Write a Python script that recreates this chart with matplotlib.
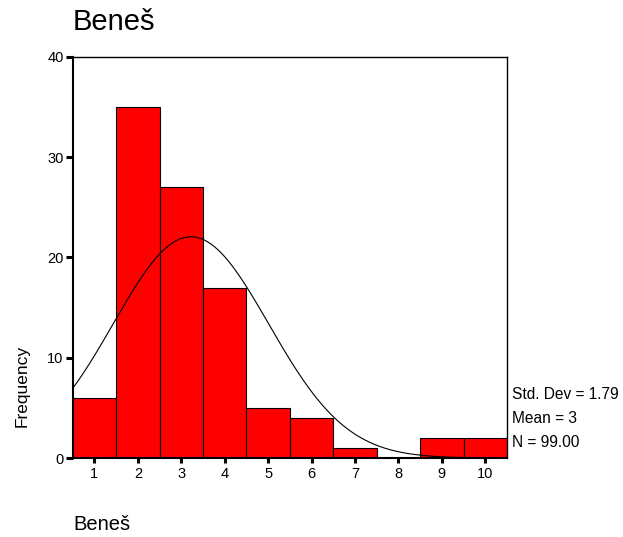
import numpy as np
import matplotlib
matplotlib.use("Agg")
import matplotlib.pyplot as plt

plt.rcParams['font.family'] = ['Liberation Sans', 'DejaVu Sans']

categories = [1, 2, 3, 4, 5, 6, 7, 8, 9, 10]
counts = [6, 35, 27, 17, 5, 4, 1, 0, 2, 2]
y_ticks = [0, 10, 20, 30, 40]
std_dev = 1.79
mean_label = "3"
n_label = "99.00"
title = "Beneš"

fig = plt.figure(figsize=(6.23, 5.37), dpi=100)
ax = fig.add_axes([0.1167, 0.1471, 0.697, 0.7468])

ax.bar(categories, counts, width=1.0, color='#ff0000', edgecolor='black', linewidth=0.8, zorder=2)

n = sum(counts)
mean = sum(c * k for c, k in zip(categories, counts)) / n
xs = np.linspace(0.5, 10.5, 400)
ys = n * 1.0 / (std_dev * np.sqrt(2 * np.pi)) * np.exp(-(xs - mean) ** 2 / (2 * std_dev ** 2))
ax.plot(xs, ys, color='black', linewidth=0.8, zorder=3)

ax.set_xlim(0.5, 10.5)
ax.set_ylim(0, 40)
ax.set_xticks(categories)
ax.set_yticks(y_ticks)
ax.tick_params(axis='y', direction='out', width=2.2, length=5, labelsize=10.5, pad=1.5, color='black')
ax.tick_params(axis='x', direction='out', width=2.2, length=3.6, labelsize=10.5, pad=3, color='black')
for s in ax.spines.values():
    s.set_linewidth(1.0)
ax.spines['left'].set_linewidth(1.5)
ax.spines['bottom'].set_linewidth(1.5)

fig.text(0.116, 0.959, title, fontsize=21, ha='left', va='center')
fig.text(0.035, 0.281, "Frequency", fontsize=12.5, rotation=90, ha='center', va='center')
fig.text(0.118, 0.023, "Beneš", fontsize=14.5, ha='left', va='center')

fig.text(0.822, 0.266, f"Std. Dev = {std_dev:.2f}", fontsize=11.2, ha='left', va='center')
fig.text(0.822, 0.221, f"Mean = {mean_label}", fontsize=11.2, ha='left', va='center')
fig.text(0.822, 0.176, f"N = {n_label}", fontsize=11.2, ha='left', va='center')

fig.savefig("out.png", dpi=100)
